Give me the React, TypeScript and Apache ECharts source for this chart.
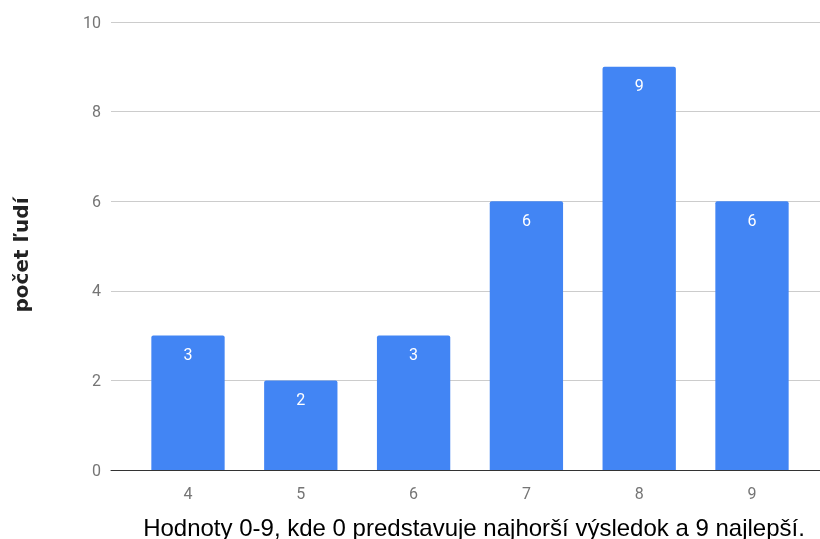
import React, { useEffect, useRef } from "react";
import * as echarts from "echarts";

const categories = ["4", "5", "6", "7", "8", "9"];
const values = [3, 2, 3, 6, 9, 6];
const xAxisTitle = "Hodnoty 0-9, kde 0 predstavuje najhorší výsledok a 9 najlepší.";
const yAxisTitle = "počet ľudí";

export default function App() {
  const ref = useRef<HTMLDivElement>(null);
  useEffect(() => {
    if (!ref.current) return;
    const chart = echarts.init(ref.current, null, { renderer: "svg" });
    chart.setOption({
      animation: false,
      textStyle: { fontFamily: "Roboto" },
      grid: [
        { left: 111, right: 0, top: 22, bottom: 69, outerBoundsMode: "none", containLabel: false },
        { left: 131.6, width: 676.8, top: 22, bottom: 69, outerBoundsMode: "none", containLabel: false },
      ],
      xAxis: [
        {
          gridIndex: 0,
          type: "value",
          min: 0,
          max: 1,
          axisLabel: { show: false },
          axisTick: { show: false },
          splitLine: { show: false },
          axisLine: { show: true, onZero: false, lineStyle: { color: "#333333", width: 1 } },
        },
        {
          gridIndex: 1,
          type: "category",
          data: categories,
          axisLine: { show: false },
          axisTick: { show: false },
          axisLabel: { color: "#757575", fontSize: 16, margin: 15, fontFamily: "Roboto" },
          name: xAxisTitle,
          nameLocation: "middle",
          nameGap: 45,
          nameTextStyle: { color: "#000000", fontSize: 24, fontFamily: "Liberation Sans", padding: [0, 0, 0, 8] },
        },
      ],
      yAxis: [
        {
          gridIndex: 0,
          type: "value",
          min: 0,
          max: 10,
          interval: 2,
          axisLine: { show: false },
          axisTick: { show: false },
          axisLabel: { color: "#757575", fontSize: 16, margin: 10, fontFamily: "Roboto" },
          splitLine: { lineStyle: { color: "#cccccc", width: 1 } },
          name: yAxisTitle,
          nameLocation: "middle",
          nameGap: 80,
          nameTextStyle: {
            color: "#222222",
            fontSize: 20,
            fontWeight: "bold",
            fontFamily: "DejaVu Sans",
            padding: [0, 18, 0, 0],
          },
        },
        {
          gridIndex: 1,
          type: "value",
          min: 0,
          max: 10,
          interval: 2,
          show: false,
          splitLine: { show: false },
        },
      ],
      series: [
        {
          type: "bar",
          xAxisIndex: 1,
          yAxisIndex: 1,
          data: values,
          barWidth: "65%",
          itemStyle: { color: "#4285F4", borderRadius: [2, 2, 0, 0] },
          label: {
            show: true,
            position: "insideTop",
            distance: 11,
            color: "#ffffff",
            fontSize: 16,
            fontFamily: "Roboto",
          },
        },
      ],
    });
    return () => chart.dispose();
  }, []);
  return <div ref={ref} style={{ width: 820, height: 539, position: "fixed", left: 0, top: 0 }} />;
}
